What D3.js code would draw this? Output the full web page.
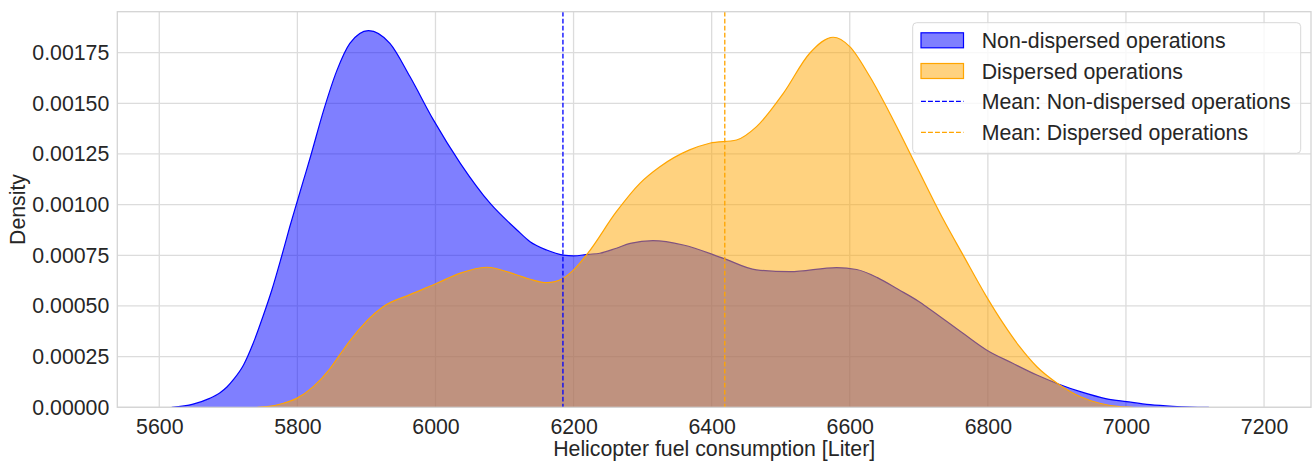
<!DOCTYPE html>
<html>
<head>
<meta charset="utf-8">
<script src="https://cdn.jsdelivr.net/npm/d3@7"></script>
<style>
  html, body { margin: 0; padding: 0; background: #fff; }
  svg { display: block; }
  text { font-family: "Liberation Sans", Arial, sans-serif; fill: #262626; }
</style>
</head>
<body>
<svg id="chart" width="1312" height="461"></svg>
<script>
// ---- Data ----
const nonDispersedX = [5618, 5649, 5673, 5688, 5698, 5707, 5722, 5736, 5750, 5763, 5777, 5789, 5799, 5809, 5818, 5838, 5857, 5876, 5903, 5934, 5963, 5997, 6036, 6079, 6118, 6137, 6161, 6185, 6200, 6221, 6238, 6262, 6282, 6315, 6359, 6417, 6465, 6513, 6581, 6610, 6640, 6670, 6700, 6716, 6764, 6798, 6836, 6871, 6902, 6934, 6972, 7001, 7035, 7068, 7093, 7120];
const nonDispersedY = [0, 0.000016, 0.000044, 0.000072, 0.000100, 0.000135, 0.000209, 0.000316, 0.000447, 0.000579, 0.000743, 0.000891, 0.001007, 0.001122, 0.001225, 0.001465, 0.001660, 0.001796, 0.001859, 0.001796, 0.001632, 0.001418, 0.001204, 0.001007, 0.000875, 0.000817, 0.000776, 0.000751, 0.000747, 0.000755, 0.000760, 0.000785, 0.000809, 0.000822, 0.000801, 0.000735, 0.000678, 0.000669, 0.000689, 0.000680, 0.000640, 0.000582, 0.000522, 0.000484, 0.000365, 0.000283, 0.000217, 0.000159, 0.000115, 0.000077, 0.000042, 0.000028, 0.000013, 0.000005, 0.0000015, 0];

const dispersedX = [5742, 5756, 5780, 5799, 5823, 5847, 5862, 5876, 5924, 5963, 6002, 6035, 6074, 6118, 6137, 6161, 6185, 6200, 6221, 6262, 6296, 6325, 6368, 6397, 6436, 6465, 6504, 6542, 6576, 6600, 6629, 6663, 6697, 6735, 6764, 6798, 6822, 6846, 6871, 6902, 6934, 6962, 6991, 7010];
const dispersedY = [0, 0.000003, 0.000020, 0.000044, 0.000102, 0.000190, 0.000262, 0.000328, 0.000496, 0.000556, 0.000612, 0.000661, 0.000691, 0.000653, 0.000632, 0.000615, 0.000637, 0.000678, 0.000762, 0.000965, 0.001105, 0.001187, 0.001270, 0.001303, 0.001319, 0.001385, 0.001550, 0.001747, 0.001826, 0.001780, 0.001632, 0.001418, 0.001187, 0.000930, 0.000752, 0.000546, 0.000415, 0.000299, 0.000200, 0.000115, 0.000052, 0.000020, 0.000003, 0];

const meanNonDispersed = 6184.6;
const meanDispersed = 6419;

const xTicks = [5600, 5800, 6000, 6200, 6400, 6600, 6800, 7000, 7200];
const yTicks = [0, 0.00025, 0.0005, 0.00075, 0.001, 0.00125, 0.0015, 0.00175];

const legendLabels = ["Non-dispersed operations", "Dispersed operations", "Mean: Non-dispersed operations", "Mean: Dispersed operations"];
const xLabel = "Helicopter fuel consumption [Liter]";
const yLabel = "Density";

// ---- Layout ----
const W = 1312, H = 461;
const pL = 117.3, pR = 1311, pT = 11.7, pB = 407.3;
const FS = 21.3;

const svg = d3.select("#chart");

const x = d3.scaleLinear().domain([5539.2, 7268]).range([pL, pR]);
const y = d3.scaleLinear().domain([0, 0.001952]).range([pB, pT]);

// grid
const grid = svg.append("g");
grid.selectAll("line.vx").data(xTicks).join("line")
  .attr("x1", d => x(d)).attr("x2", d => x(d))
  .attr("y1", pT).attr("y2", pB)
  .attr("stroke", "#dcdcdc").attr("stroke-width", 1.3);
grid.selectAll("line.hy").data(yTicks).join("line")
  .attr("x1", pL).attr("x2", pR)
  .attr("y1", d => y(d)).attr("y2", d => y(d))
  .attr("stroke", "#dcdcdc").attr("stroke-width", 1.3);

// areas
svg.append("clipPath").attr("id", "plotclip")
  .append("rect").attr("x", pL).attr("y", pT).attr("width", pR - pL).attr("height", pB - pT);

const plot = svg.append("g").attr("clip-path", "url(#plotclip)");

function drawKde(xs, ys, color) {
  const pts = xs.map((v, i) => [v, ys[i]]);
  const area = d3.area().x(d => x(d[0])).y0(y(0)).y1(d => y(d[1])).curve(d3.curveMonotoneX);
  const line = d3.line().x(d => x(d[0])).y(d => y(d[1])).curve(d3.curveMonotoneX);
  plot.append("path").attr("d", area(pts)).attr("fill", color).attr("fill-opacity", 0.5);
  plot.append("path").attr("d", line(pts)).attr("fill", "none").attr("stroke", color).attr("stroke-width", 1.2);
}
drawKde(nonDispersedX, nonDispersedY, "#0000ff");
drawKde(dispersedX, dispersedY, "#ffa500");

// mean lines
[[meanNonDispersed, "#0000ff"], [meanDispersed, "#ffa500"]].forEach(([m, c]) => {
  plot.append("line")
    .attr("x1", x(m)).attr("x2", x(m)).attr("y1", pT).attr("y2", pB)
    .attr("stroke", c).attr("stroke-width", 1.33)
    .attr("stroke-dasharray", "4.9,2.1");
});

// spines
svg.append("rect").attr("x", pL).attr("y", pT).attr("width", pR - pL).attr("height", pB - pT)
  .attr("fill", "none").attr("stroke", "#d4d4d4").attr("stroke-width", 1.3);

// axes (labels only, seaborn whitegrid has no tick marks)
const xAxis = d3.axisBottom(x).tickValues(xTicks).tickSize(0).tickPadding(12).tickFormat(d3.format("d"));
const gx = svg.append("g").attr("transform", `translate(0,${pB})`).call(xAxis);
gx.select(".domain").remove();
gx.selectAll("text").attr("font-size", FS).attr("fill", "#262626")
  .attr("font-family", '"Liberation Sans", Arial, sans-serif');

const yAxis = d3.axisLeft(y).tickValues(yTicks).tickSize(0).tickPadding(8).tickFormat(d3.format(".5f"));
const gy = svg.append("g").attr("transform", `translate(${pL},0)`).call(yAxis);
gy.select(".domain").remove();
gy.selectAll("text").attr("font-size", FS).attr("fill", "#262626")
  .attr("font-family", '"Liberation Sans", Arial, sans-serif');

// axis labels
svg.append("text").attr("x", (pL + pR) / 2).attr("y", 456)
  .attr("text-anchor", "middle").attr("font-size", FS).text(xLabel);
svg.append("text").attr("transform", `translate(24.5,${(pT + pB) / 2}) rotate(-90)`)
  .attr("text-anchor", "middle").attr("font-size", FS).text(yLabel);

// legend
const lg = svg.append("g");
lg.append("rect").attr("x", 912.7).attr("y", 22.7).attr("width", 388).attr("height", 130.6)
  .attr("rx", 4).attr("fill", "#ffffff").attr("fill-opacity", 0.8)
  .attr("stroke", "#d8d8d8").attr("stroke-width", 1);
const rowY = [40.3, 71, 101.3, 132.3];
const legendStyles = [
  { type: "patch", color: "#0000ff" },
  { type: "patch", color: "#ffa500" },
  { type: "line", color: "#0000ff" },
  { type: "line", color: "#ffa500" }
];
legendLabels.forEach((lab, i) => {
  const st = legendStyles[i];
  const cy = rowY[i];
  if (st.type === "patch") {
    lg.append("rect").attr("x", 921).attr("y", cy - 7.5).attr("width", 42.5).attr("height", 15)
      .attr("fill", st.color).attr("fill-opacity", 0.5)
      .attr("stroke", st.color).attr("stroke-width", 1.2);
  } else {
    lg.append("line").attr("x1", 921).attr("x2", 963.5).attr("y1", cy).attr("y2", cy)
      .attr("stroke", st.color).attr("stroke-width", 1.33).attr("stroke-dasharray", "4.9,2.1");
  }
  lg.append("text").attr("x", 981.7).attr("y", cy).attr("dy", "0.36em")
    .attr("font-size", FS).text(lab);
});
</script>
</body>
</html>
